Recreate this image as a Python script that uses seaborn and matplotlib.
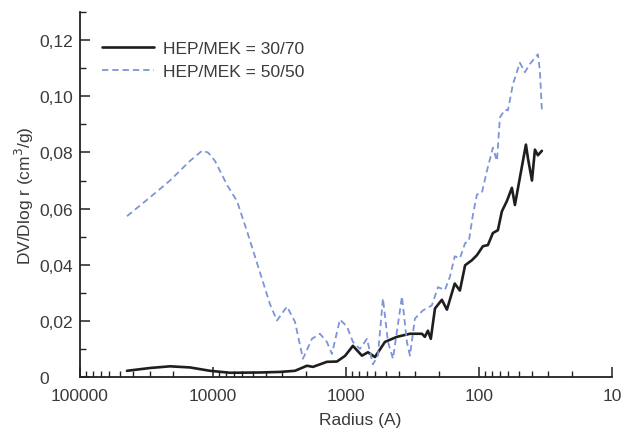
import seaborn as sns
import pandas as pd
import numpy as np
import matplotlib.pyplot as plt
from matplotlib.ticker import FixedLocator, FuncFormatter, MultipleLocator, LogLocator

# HEP/MEK = 30/70 (solid black)
r_3070 = [44330, 29760, 21050, 14890, 10530, 7450, 4433, 3135, 2418, 1965, 1771, 1390, 1169,
          1017, 886, 758, 683, 605, 509, 414, 330, 268, 255, 242, 230, 214, 190, 174, 152,
          139, 127, 113, 103.5, 93.3, 85.6, 78.5, 72.0, 67.2, 61.6, 56.5, 53.6, 49.2, 44.3,
          42.8, 39.9, 37.9, 36.0, 33.6]
v_3070 = [0.0022, 0.0032, 0.0038, 0.0034, 0.0022, 0.0015, 0.0016, 0.0018, 0.0022, 0.0040,
          0.0036, 0.0054, 0.0055, 0.0075, 0.0111, 0.0076, 0.0088, 0.0071, 0.0125, 0.0143,
          0.0154, 0.0154, 0.0143, 0.0165, 0.0136, 0.0244, 0.0275, 0.0240, 0.0333, 0.0308,
          0.0398, 0.0416, 0.0434, 0.0466, 0.0470, 0.0513, 0.0523, 0.0590, 0.0627, 0.0674,
          0.0613, 0.0710, 0.0828, 0.0780, 0.0700, 0.0810, 0.0790, 0.0806]

# HEP/MEK = 50/50 (dashed blue)
r_5050 = [44330, 29760, 21050, 14890, 12090, 10900, 9660, 7850, 6600, 5550, 4280, 3730, 3300,
          2777, 2418, 2106, 1801, 1569, 1390, 1275, 1110, 983, 886, 785, 695, 627, 575, 527,
          483, 443, 379, 348, 330, 303, 264, 226, 203, 180, 165, 152, 139, 127, 119, 111,
          103.5, 95, 87, 78.5, 73.2, 69.5, 63.7, 60.5, 55.5, 49.2, 45.1, 41.4, 36.0, 34.8, 33.6]
v_5050 = [0.0573, 0.0640, 0.0700, 0.0770, 0.0806, 0.0800, 0.0770, 0.0685, 0.0627, 0.0520,
          0.0350, 0.0260, 0.0201, 0.0251, 0.0197, 0.0065, 0.0136, 0.0154, 0.0125, 0.0082,
          0.0205, 0.0180, 0.0125, 0.0100, 0.0136, 0.0045, 0.0076, 0.0280, 0.0125, 0.0065,
          0.0287, 0.0125, 0.0076, 0.0208, 0.0237, 0.0255, 0.0320, 0.0310, 0.0358, 0.0430,
          0.0423, 0.0477, 0.0484, 0.0577, 0.0650, 0.0656, 0.0735, 0.0817, 0.0770, 0.0925,
          0.0953, 0.0950, 0.1043, 0.1120, 0.1086, 0.1115, 0.1150, 0.1093, 0.0950]

x_ticks = [100000, 10000, 1000, 100, 10]
y_ticks = [0, 0.02, 0.04, 0.06, 0.08, 0.10, 0.12]

sns.set_style("ticks")
plt.rcParams['font.family'] = ['Liberation Sans', 'DejaVu Sans']
plt.rcParams['font.size'] = 12.5
text_color = '#3a3a3a'

df_a = pd.DataFrame({'r': r_3070, 'v': v_3070})
df_b = pd.DataFrame({'r': r_5050, 'v': v_5050})

fig = plt.figure(figsize=(6.25, 4.39), dpi=100)
ax = fig.add_axes([0.128, 0.139, 0.851, 0.831])

sns.lineplot(data=df_a, x='r', y='v', ax=ax, color='#1e1e1e', linewidth=1.9,
             label='HEP/MEK = 30/70', sort=False)
sns.lineplot(data=df_b, x='r', y='v', ax=ax, color='#7d95d8', linewidth=1.3,
             label='HEP/MEK = 50/50', sort=False)
ax.lines[1].set_dashes([3.5, 2.2])

ax.set_xscale('log')
ax.set_xlim(100000, 10)
ax.set_ylim(0, 0.13)

ax.xaxis.set_major_locator(FixedLocator(x_ticks))
ax.xaxis.set_minor_locator(LogLocator(base=10, subs=np.arange(2, 10)))
ax.xaxis.set_major_formatter(FuncFormatter(lambda v, p: f"{int(round(v))}"))
ax.xaxis.set_minor_formatter(FuncFormatter(lambda v, p: ""))

ax.yaxis.set_major_locator(FixedLocator(y_ticks))
ax.yaxis.set_minor_locator(MultipleLocator(0.01))
ax.yaxis.set_major_formatter(FuncFormatter(
    lambda v, p: "0" if abs(v) < 1e-9 else f"{v:.2f}".replace('.', ',')))

ax.tick_params(which='major', direction='in', length=7, width=1.1, colors='#222222',
               labelcolor=text_color, labelsize=12.5)
ax.tick_params(which='minor', direction='in', length=4, width=1.0, colors='#222222')
ax.tick_params(axis='x', pad=8)
ax.tick_params(axis='y', pad=29)
for lbl in ax.get_yticklabels():
    lbl.set_horizontalalignment('left')

for side in ['top', 'right']:
    ax.spines[side].set_visible(False)
for side in ['left', 'bottom']:
    ax.spines[side].set_linewidth(1.3)
    ax.spines[side].set_color('#222222')

ax.set_xlabel('Radius (A)', color=text_color, fontsize=12.5)
ax.set_ylabel('DV/Dlog r (cm$^3$/g)', color=text_color, fontsize=12.5)
ax.xaxis.set_label_coords(0.526, -0.097)
ax.yaxis.set_label_coords(-0.083, 0.5)

leg = ax.legend(loc='upper left', bbox_to_anchor=(0.012, 0.965), frameon=False,
                handlelength=3.0, handletextpad=0.5, labelspacing=0.45, fontsize=12.5)
for t in leg.get_texts():
    t.set_color(text_color)

fig.savefig('out.png', dpi=100)
